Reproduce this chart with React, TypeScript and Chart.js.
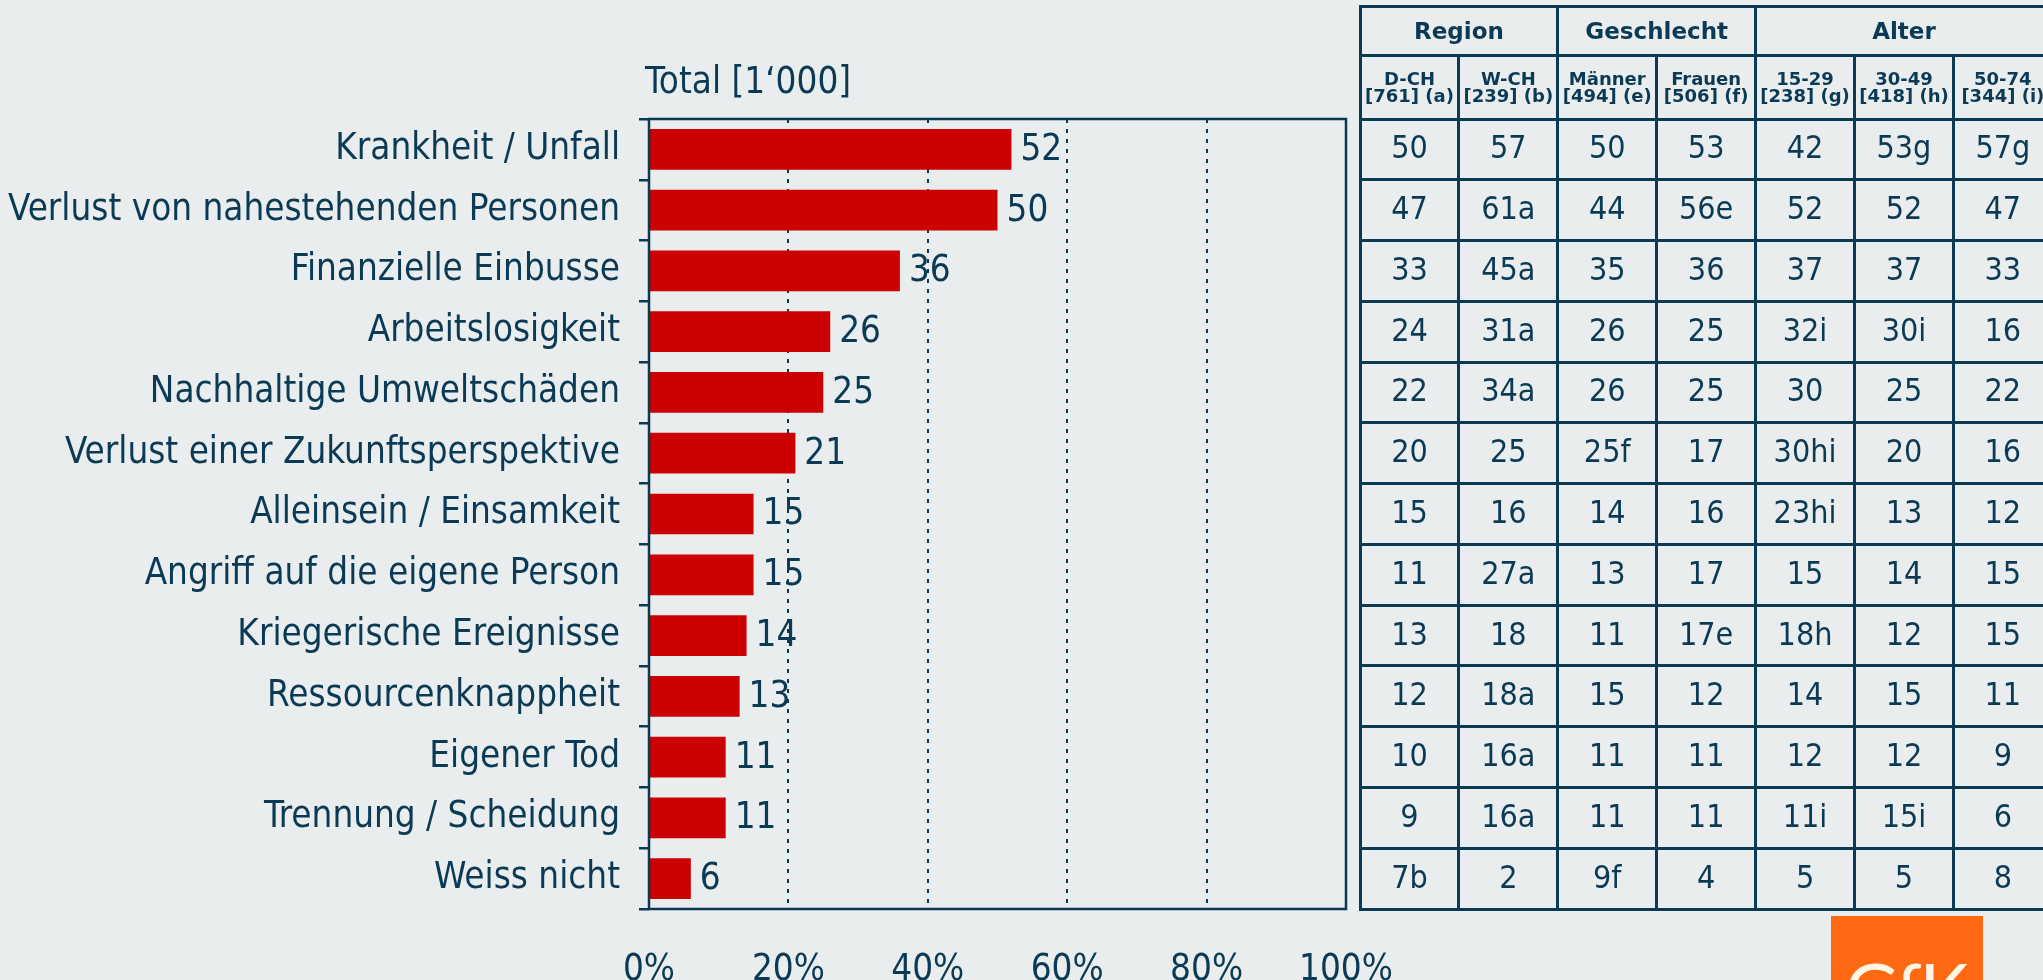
import React, { useEffect, useRef } from "react";
import { Chart, registerables } from "chart.js";

Chart.register(...registerables);

// ---------- data ----------
const categories = [
  "Krankheit / Unfall",
  "Verlust von nahestehenden Personen",
  "Finanzielle Einbusse",
  "Arbeitslosigkeit",
  "Nachhaltige Umweltschäden",
  "Verlust einer Zukunftsperspektive",
  "Alleinsein / Einsamkeit",
  "Angriff auf die eigene Person",
  "Kriegerische Ereignisse",
  "Ressourcenknappheit",
  "Eigener Tod",
  "Trennung / Scheidung",
  "Weiss nicht",
];
const totals = [52, 50, 36, 26, 25, 21, 15, 15, 14, 13, 11, 11, 6];
const chartTitle = "Total [1‘000]";
const xTickValues = [0, 20, 40, 60, 80, 100];

const groupHeaders: [string, number][] = [
  ["Region", 2],
  ["Geschlecht", 2],
  ["Alter", 3],
];
const subHeaders: [string, string][] = [
  ["D-CH", "[761] (a)"],
  ["W-CH", "[239] (b)"],
  ["Männer", "[494] (e)"],
  ["Frauen", "[506] (f)"],
  ["15-29", "[238] (g)"],
  ["30-49", "[418] (h)"],
  ["50-74", "[344] (i)"],
];
const colDCH = ["50", "47", "33", "24", "22", "20", "15", "11", "13", "12", "10", "9", "7b"];
const colWCH = ["57", "61a", "45a", "31a", "34a", "25", "16", "27a", "18", "18a", "16a", "16a", "2"];
const colMaenner = ["50", "44", "35", "26", "26", "25f", "14", "13", "11", "15", "11", "11", "9f"];
const colFrauen = ["53", "56e", "36", "25", "25", "17", "16", "17", "17e", "12", "11", "11", "4"];
const col1529 = ["42", "52", "37", "32i", "30", "30hi", "23hi", "15", "18h", "14", "12", "11i", "5"];
const col3049 = ["53g", "52", "37", "30i", "25", "20", "13", "14", "12", "15", "12", "15i", "5"];
const col5074 = ["57g", "47", "33", "16", "22", "16", "12", "15", "15", "11", "9", "6", "8"];
const tableColumns = [colDCH, colWCH, colMaenner, colFrauen, col1529, col3049, col5074];

// ---------- style ----------
const NAVY = "#0B3A55";
const RED = "#CC0000";
const BG = "#E9EDEE";
const ORANGE = "#FF6912";
const COND = '"DejaVu Sans Condensed", "DejaVu Sans", sans-serif';
const BOLD = '"DejaVu Sans", sans-serif';
const FS = 36.5;

const W = 2043;
const H = 980;
const PLOT_L = 649;
const PLOT_R = 1346;
const PLOT_T = 119;
const PLOT_B = 909;
const LW = 2.5;
const TLW = 3;

const TBL_L = 1360;
const COL_W = 98.9;
const TBL_T = 6;
const HDR1_B = 55;
const ROW_H = (PLOT_B - PLOT_T) / categories.length;

const overlayPlugin = {
  id: "overlay",
  afterDatasetsDraw(chart: any) {
    const { ctx, chartArea } = chart;
    const meta = chart.getDatasetMeta(0);
    ctx.save();
    ctx.fillStyle = NAVY;
    ctx.font = `${FS}px ${COND}`;
    ctx.textBaseline = "middle";
    ctx.textAlign = "left";
    meta.data.forEach((bar: any, i: number) => {
      ctx.fillText(String(totals[i]), bar.x + 9, bar.y + 1);
    });
    ctx.fillText(chartTitle, chartArea.left - 4, 84);
    ctx.strokeStyle = NAVY;
    ctx.lineWidth = LW;
    ctx.strokeRect(chartArea.left, chartArea.top, chartArea.right - chartArea.left, chartArea.bottom - chartArea.top);
    ctx.restore();
  },
};

function ChartCanvas() {
  const ref = useRef<HTMLCanvasElement | null>(null);
  useEffect(() => {
    if (!ref.current) return;
    const chart = new Chart(ref.current, {
      type: "bar",
      data: {
        labels: categories,
        datasets: [
          {
            data: totals,
            backgroundColor: RED,
            borderWidth: 0,
            barPercentage: 0.67,
            categoryPercentage: 1,
          },
        ],
      },
      options: {
        indexAxis: "y",
        animation: false,
        responsive: false,
        devicePixelRatio: 1,
        layout: { padding: { left: 0, top: PLOT_T, right: W - PLOT_R, bottom: 0 } },
        plugins: { legend: { display: false }, tooltip: { enabled: false }, title: { display: false } },
        scales: {
          x: {
            type: "linear",
            min: 0,
            max: 100,
            afterFit: (s: any) => {
              s.height = H - PLOT_B;
            },
            afterBuildTicks: (s: any) => {
              s.ticks = xTickValues.map((v) => ({ value: v }));
            },
            ticks: {
              color: NAVY,
              font: { family: COND, size: FS },
              padding: 40,
              maxRotation: 0,
              callback: (v: any) => v + "%",
            },
            grid: {
              drawTicks: false,
              lineWidth: 2,
              color: (c: any) => (c.tick && c.tick.value > 0 && c.tick.value < 100 ? NAVY : "rgba(0,0,0,0)"),
              borderDash: [4, 6],
            } as any,
            border: { display: false, dash: [4, 6] } as any,
          },
          y: {
            type: "category",
            offset: true,
            afterFit: (s: any) => {
              s.width = PLOT_L;
            },
            ticks: {
              color: NAVY,
              font: { family: COND, size: FS },
              padding: 19,
              autoSkip: false,
            },
            grid: {
              offset: true,
              drawOnChartArea: false,
              drawTicks: true,
              tickLength: 10,
              color: NAVY,
              lineWidth: LW,
            },
            border: { display: false },
          },
        },
      },
      plugins: [overlayPlugin],
    } as any);
    return () => chart.destroy();
  }, []);
  return <canvas ref={ref} width={W} height={H} style={{ position: "absolute", left: 0, top: 0, width: W, height: H }} />;
}

function Line({ x1, y1, x2, y2 }: { x1: number; y1: number; x2: number; y2: number }) {
  const horiz = y1 === y2;
  return (
    <div
      style={{
        position: "absolute",
        left: x1 - TLW / 2,
        top: y1 - TLW / 2,
        width: horiz ? x2 - x1 + TLW : TLW,
        height: horiz ? TLW : y2 - y1 + TLW,
        background: NAVY,
      }}
    />
  );
}

function Table() {
  const nCols = subHeaders.length;
  const colX = (i: number) => TBL_L + i * COL_W;
  const rightX = colX(nCols);
  const lines: JSX.Element[] = [];
  const hys = [TBL_T, HDR1_B, PLOT_T];
  for (let r = 1; r <= categories.length; r++) hys.push(PLOT_T + r * ROW_H);
  hys.forEach((y, i) => lines.push(<Line key={"h" + i} x1={TBL_L} y1={y} x2={rightX} y2={y} />));
  const groupEdges = [0];
  groupHeaders.forEach(([, span]) => groupEdges.push(groupEdges[groupEdges.length - 1] + span));
  for (let i = 0; i <= nCols; i++) {
    const top = groupEdges.includes(i) ? TBL_T : HDR1_B;
    lines.push(<Line key={"v" + i} x1={colX(i)} y1={top} x2={colX(i)} y2={PLOT_B} />);
  }
  const cells: JSX.Element[] = [];
  let start = 0;
  groupHeaders.forEach(([name, span], gi) => {
    cells.push(
      <div
        key={"g" + gi}
        style={{
          position: "absolute",
          left: colX(start),
          top: TBL_T,
          width: span * COL_W,
          height: HDR1_B - TBL_T,
          display: "flex",
          alignItems: "center",
          justifyContent: "center",
          font: `bold 23px ${BOLD}`,
          color: NAVY,
        }}
      >
        {name}
      </div>
    );
    start += span;
  });
  subHeaders.forEach(([a, b], i) => {
    cells.push(
      <div
        key={"s" + i}
        style={{
          position: "absolute",
          left: colX(i),
          top: HDR1_B,
          width: COL_W,
          height: PLOT_T - HDR1_B,
          display: "flex",
          flexDirection: "column",
          alignItems: "center",
          justifyContent: "center",
          font: `bold 18px/17px ${BOLD}`,
          color: NAVY,
          whiteSpace: "nowrap",
        }}
      >
        <div>{a}</div>
        <div>{b}</div>
      </div>
    );
  });
  tableColumns.forEach((col, ci) => {
    col.forEach((v, ri) => {
      cells.push(
        <div
          key={"c" + ci + "_" + ri}
          style={{
            position: "absolute",
            left: colX(ci),
            top: PLOT_T + ri * ROW_H - 2,
            width: COL_W,
            height: ROW_H,
            display: "flex",
            alignItems: "center",
            justifyContent: "center",
            font: `32px ${COND}`,
            color: NAVY,
          }}
        >
          {v}
        </div>
      );
    });
  });
  return (
    <>
      {lines}
      {cells}
    </>
  );
}

export default function App() {
  useEffect(() => {
    document.body.style.margin = "0";
    document.body.style.background = BG;
  }, []);
  return (
    <div style={{ position: "fixed", left: 0, top: 0, width: W, height: H, overflow: "hidden", background: BG }}>
      <ChartCanvas />
      <Table />
      <div
        style={{
          position: "absolute",
          left: 1831,
          top: 916,
          width: 152,
          height: 80,
          background: ORANGE,
          overflow: "hidden",
        }}
      >
        <div
          style={{
            position: "absolute",
            left: 14,
            top: 36,
            font: `74px Lato, "Open Sans", sans-serif`,
            lineHeight: "74px",
            color: "#FFF6E6",
            letterSpacing: -2,
          }}
        >
          GfK
        </div>
      </div>
    </div>
  );
}
